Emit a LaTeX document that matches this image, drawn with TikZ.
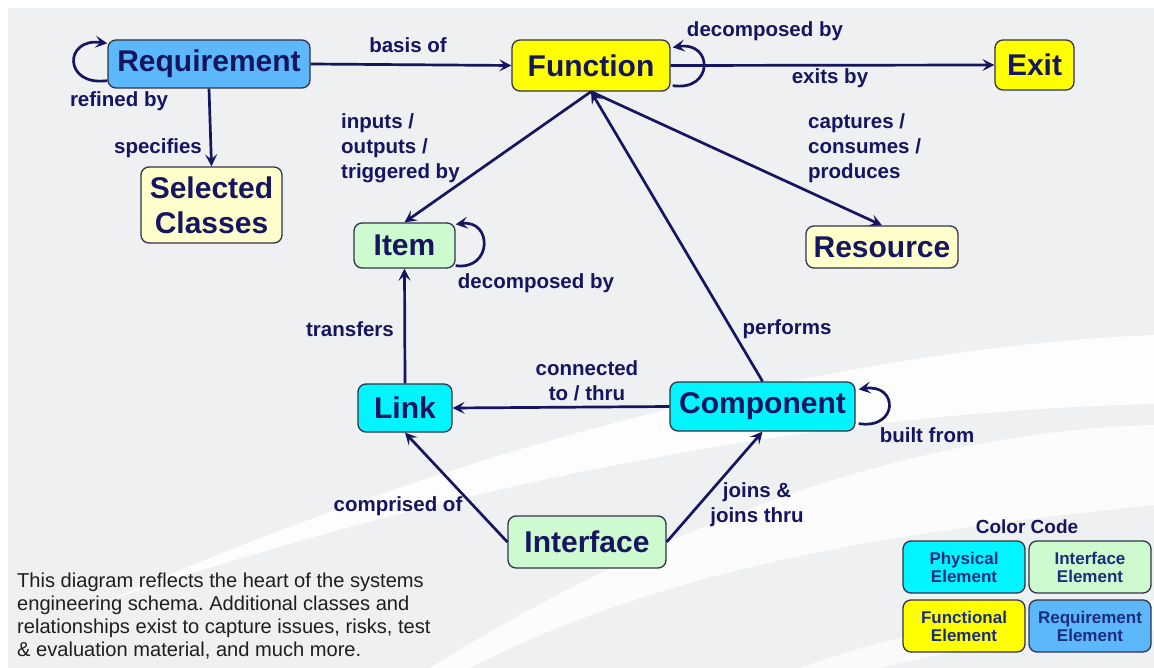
\documentclass[tikz,border=0pt]{standalone}
\usepackage{fontspec}
\setmainfont{Liberation Sans}
\usetikzlibrary{arrows.meta,calc}

\definecolor{navy}{RGB}{22,22,96}
\definecolor{legendtext}{RGB}{28,45,125}
\definecolor{bggray}{RGB}{238,240,241}
\definecolor{reqblue}{RGB}{92,184,250}
\definecolor{funcyellow}{RGB}{255,255,0}
\definecolor{paleyellow}{RGB}{255,255,204}
\definecolor{palegreen}{RGB}{206,250,208}
\definecolor{physcyan}{RGB}{0,245,255}
\definecolor{boxline}{RGB}{50,50,72}
\definecolor{notetext}{RGB}{30,30,30}

\tikzset{
  classbox/.style={draw=boxline, line width=1.3pt, rounded corners=8pt,
    inner sep=0pt, align=center, text=navy,
    font=\bfseries\fontsize{30}{35}\selectfont},
  keybox/.style={draw=boxline, line width=1.3pt, rounded corners=8pt,
    inner sep=0pt, align=center, text=legendtext,
    minimum width=122pt, minimum height=52pt,
    font=\bfseries\fontsize{17}{18}\selectfont},
  rel/.style={draw=navy, line width=2.7pt,
    -{Stealth[length=12pt,width=12pt,inset=5pt]}},
  rellabel/.style={text=navy, inner sep=0pt,
    font=\bfseries\fontsize{20.5}{25}\selectfont},
}

\begin{document}
\frenchspacing
\begin{tikzpicture}[x=1pt,y=-1pt]
  \useasboundingbox (0,0) rectangle (1154,668);

  % page background and the soft white swooshes
  \fill[white] (0,0) rectangle (1154,668);
  \fill[bggray] (8,8) rectangle (1154,668);
  \begin{scope}
    \clip (8,8) rectangle (1154,668);
    \fill[white, opacity=0.9]
      (1154,335) .. controls (900,345) and (520,420) .. (110,600)
      .. controls (540,455) and (900,410) .. (1154,404) -- cycle;
    \fill[white, opacity=0.85]
      (1154,425) .. controls (950,430) and (700,500) .. (430,668)
      -- (470,668) .. controls (680,560) and (920,530) .. (1154,505) -- cycle;
    \fill[white, opacity=0.7]
      (1154,600) .. controls (1000,612) and (880,638) .. (800,668)
      -- (880,668) .. controls (960,648) and (1050,636) .. (1154,630) -- cycle;
  \end{scope}

  % classes
  \node[classbox, fill=reqblue, minimum width=202pt, minimum height=48pt]
    (req) at (209,64) {Requirement};
  \node[classbox, fill=funcyellow, minimum width=158pt, minimum height=51pt]
    (fn) at (591,65.5) {Function};
  \node[classbox, fill=funcyellow, minimum width=79pt, minimum height=50pt]
    (exit) at (1034.5,65) {Exit};
  \node[classbox, fill=paleyellow, minimum width=141pt, minimum height=76pt]
    (sel) at (211.5,205) {Selected\\Classes};
  \node[classbox, fill=palegreen, minimum width=101pt, minimum height=45pt]
    (item) at (404.5,245.5) {Item};
  \node[classbox, fill=paleyellow, minimum width=152pt, minimum height=42pt]
    (res) at (882,247) {Resource};
  \node[classbox, fill=physcyan, minimum width=94pt, minimum height=48pt]
    (link) at (405,408) {Link};
  \node[classbox, fill=physcyan, minimum width=185pt, minimum height=49pt]
    (comp) at (762.5,406.5) {Component};
  \node[classbox, fill=palegreen, minimum width=158pt, minimum height=52pt]
    (intf) at (587,542) {Interface};

  % relationships
  \draw[rel] (req.east) -- (fn.west);
  \draw[rel] (fn.east) -- (exit.west);
  \draw[rel] (req.south) -- (sel.north);
  \draw[rel] (fn.south) -- (item.north);
  \draw[rel] (fn.south) -- (res.north);
  \draw[rel] (comp.north) -- (fn.south);
  \draw[rel] (link.north) -- (item.south);
  \draw[rel] (comp.west) -- (link.east);
  \draw[rel] (intf.west) -- (link.south);
  \draw[rel] (intf.east) -- (comp.south);

  % self relationships
  \draw[rel] ($(req.south west)+(0,-8)$) .. controls +(-44,6) and +(-44,-6) ..
    ($(req.north west)+(0,4)$);
  \draw[rel] ($(fn.south east)+(2,-6)$) .. controls +(41,6) and +(41,-6) ..
    ($(fn.north east)+(2,8)$);
  \draw[rel] ($(item.south east)+(0,-3)$) .. controls +(37,5) and +(37,-5) ..
    ($(item.north east)+(0,2)$);
  \draw[rel] ($(comp.south east)+(3,-8)$) .. controls +(40,6) and +(40,-6) ..
    ($(comp.north east)+(3,8)$);

  % relationship labels
  \node[rellabel] (lbasis) at (408,45) {basis of};
  \node[rellabel] (lrefined) at (119,101) {refined by};
  \node[rellabel] (lspec) at (158,148) {specifies};
  \node[rellabel] (lfndec) at (765,31) {decomposed by};
  \node[rellabel] (lexits) at (830,78) {exits by};
  \node[rellabel, align=left, anchor=west] (linputs) at (341,148)
    {inputs /\\outputs /\\triggered by};
  \node[rellabel, align=left, anchor=west] (lcapt) at (808,148)
    {captures /\\consumes /\\produces};
  \node[rellabel] (litemdec) at (536,283) {decomposed by};
  \node[rellabel] (ltransf) at (350,329) {transfers};
  \node[rellabel] (lperf) at (787,329) {performs};
  \node[rellabel, align=center] (lconn) at (587,381) {connected\\to / thru};
  \node[rellabel] (lbuilt) at (927,435) {built from};
  \node[rellabel] (lcompr) at (398,506) {comprised of};
  \node[rellabel, align=center] (ljoins) at (757,505) {joins \&\\joins thru};

  % colour key
  \node[text=navy, font=\bfseries\fontsize{19}{22}\selectfont] (keytitle)
    at (1027,527) {Color Code};
  \node[keybox, fill=physcyan] (kphys) at (964,567) {Physical\\Element};
  \node[keybox, fill=palegreen] (kintf) at (1090,567) {Interface\\Element};
  \node[keybox, fill=funcyellow] (kfunc) at (964,626) {Functional\\Element};
  \node[keybox, fill=reqblue] (kreq) at (1090,626) {Requirement\\Element};

  % note
  \node[anchor=west, align=left, inner sep=0pt, text=notetext,
    font=\fontsize{20.1}{22.7}\selectfont] (note) at (17,616)
    {This diagram reflects the heart of the systems\\
     engineering schema. Additional classes and\\
     relationships exist to capture issues, risks, test\\
     \& evaluation material, and much more.};
\end{tikzpicture}
\end{document}
